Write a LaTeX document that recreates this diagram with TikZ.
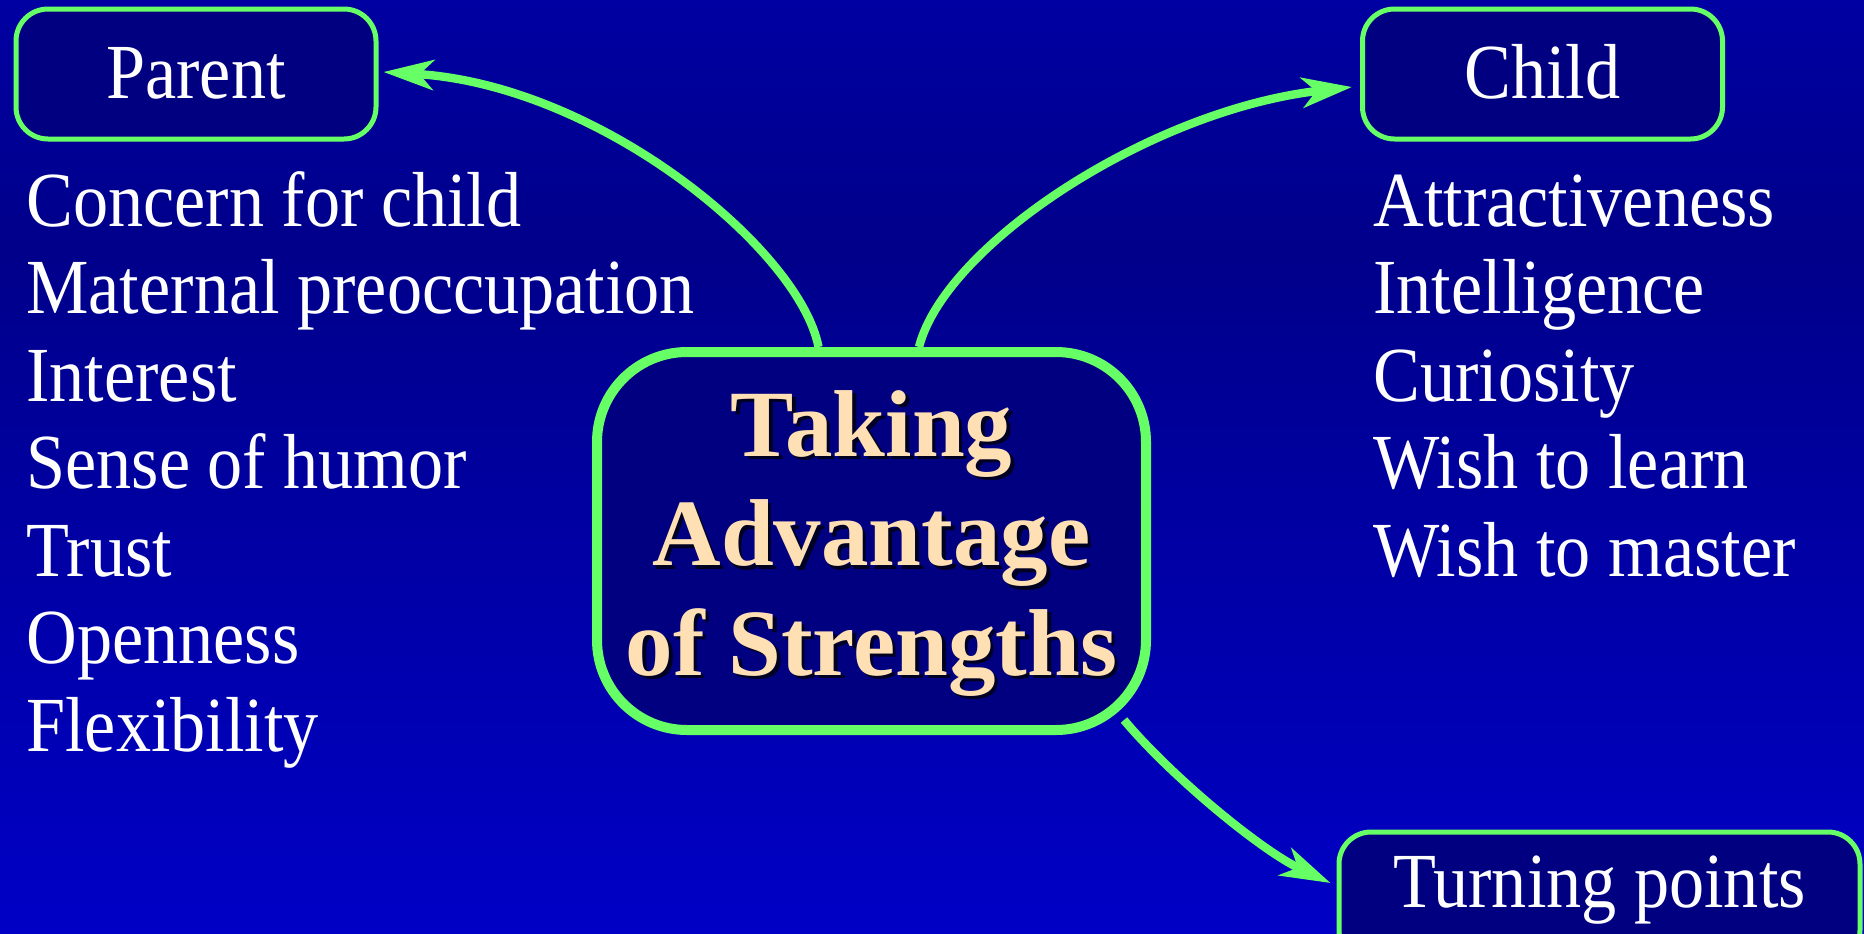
\documentclass[tikz,border=0pt]{standalone}
\usepackage{fontspec}
\setmainfont{Liberation Serif}
\newfontfamily\condfont[FakeStretch=0.9]{Liberation Serif}
\usetikzlibrary{arrows.meta,calc}
\definecolor{bgtop}{HTML}{0000A2}
\definecolor{bgmid}{HTML}{00008A}
\definecolor{bgbot}{HTML}{0000C6}
\definecolor{boxfill}{HTML}{000080}
\definecolor{boxgreen}{HTML}{66FF66}
\definecolor{titlecol}{HTML}{FFE0B4}
\definecolor{shadowcol}{HTML}{000022}
\begin{document}
\begin{tikzpicture}[x=0.5pt,y=-0.5pt,
  labelbox/.style={draw=boxgreen, line width=2.5pt, fill=boxfill, rounded corners=16pt,
    minimum width=180pt, minimum height=65pt, inner sep=0pt, text=white,
    font=\condfont\fontsize{39}{44}\selectfont, text height=26pt, text depth=2pt},
  centerbox/.style={draw=boxgreen, line width=5pt, fill=boxfill, rounded corners=45pt,
    minimum width=274.5pt, minimum height=189pt, inner sep=0pt},
  titletext/.style={align=center, inner sep=0pt, text=titlecol,
    font=\bfseries\fontsize{47.5}{54.75}\selectfont},
  listtext/.style={text=white, align=left, inner sep=0pt, anchor=base west,
    font=\condfont\fontsize{39}{43.75}\selectfont},
  conn/.style={draw=boxgreen, line width=4.2pt, -{Stealth[length=25pt,width=15pt,inset=7pt]}}]
\clip (0,0) rectangle (1864,933);
\useasboundingbox (0,0) rectangle (1864,933);
\shade[top color=bgtop, bottom color=bgmid] (0,0) rectangle (1864,250);
\shade[top color=bgmid, bottom color=bgbot] (0,249) rectangle (1864,933);

\node[labelbox] (parent) at (196,74) {Parent};
\node[labelbox] (child) at (1542.5,74) {Child};
\node[labelbox, minimum width=260.5pt, text depth=16pt] (turning) at (1599.5,897) {Turning points};

\node[centerbox] (center) at (871.5,541) {};
\node[titletext, text=shadowcol] (titleshadow) at (875,547) {Taking\\Advantage\\of Strengths};
\node[titletext] (title) at (871.5,543.5) {Taking\\Advantage\\of Strengths};

\node[listtext] (parentlist) at (26,751) {Concern for child\\Maternal preoccupation\\Interest\\Sense of humor\\Trust\\Openness\\Flexibility};
\node[listtext] (childlist) at (1373,576) {Attractiveness\\Intelligence\\Curiosity\\Wish to learn\\Wish to master};

\draw[conn] ($(center.north)+(-53,0)$) .. controls (800,250) and (600,85) .. ($(parent.east)+(5,-2)$);
\draw[conn] ($(center.north)+(47.5,0)$) .. controls (945,245) and (1150,110) .. ($(child.west)+(-8,13)$);
\draw[conn] ($(center.south east)+(-27,-15)$) .. controls (1170,775) and (1260,850) .. ($(turning.west)+(-6,-14)$);
\end{tikzpicture}
\end{document}
